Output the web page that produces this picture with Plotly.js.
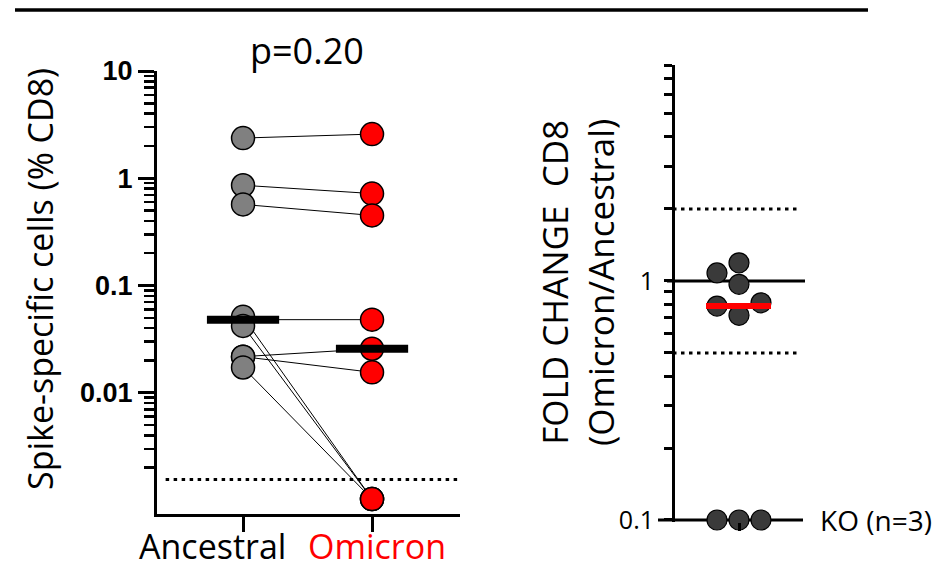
<!DOCTYPE html>
<html><head><meta charset="utf-8">
<script src="https://cdn.plot.ly/plotly-3.0.1.min.js"></script>
<style>html,body{margin:0;padding:0;background:#fff}#chart{width:941px;height:570px}</style>
</head><body><div id="chart"></div>
<script>
// ---- data ----
const groups = ['Ancestral', 'Omicron'];
const ancestral = [2.37, 0.86, 0.57, 0.048, 0.051, 0.042, 0.0217, 0.0217, 0.0172];
const omicron   = [2.58, 0.72, 0.45, 0.048, 0.00102, 0.00102, 0.0257, 0.0155, 0.00102];
const foldChange = [1.08, 0.81, 0.785, 0.968, 0.1, 0.1, 1.19, 0.718, 0.1];
const detectionLimit = 0.00155;
const foldRef = 1;
const foldThresholds = [0.5, 2];
const koFloor = 0.1;
const pText = 'p=0.20';
const koText = 'KO (n=3)';
const leftTickVals = [0.01, 0.1, 1, 10];
const leftTickText = ['0.01', '0.1', '1', '10'];
const rightTickVals = [0.1, 1];
const rightTickText = ['0.1', '1'];

// ---- helpers ----
const W = 941, H = 570;
const px = v => v / W, py = v => 1 - v / H;
const median = a => { const s = [...a].sort((p, q) => p - q); const n = s.length; return n % 2 ? s[(n - 1) / 2] : (s[n / 2 - 1] + s[n / 2]) / 2; };
function minorVals(lo, hi) { const out = []; for (let e = lo; e <= hi; e++) for (let k = 2; k <= 9; k++) out.push(k * Math.pow(10, e)); return out; }

// right panel geometry (x2 units are pixels relative to the category centre)
const y2Dom = [py(522), py(65)];
const y2Range = [-1 - 2 / 238, Math.log10(8)];
const pxPerDecade2 = (y2Dom[1] - y2Dom[0]) * H / (y2Range[1] - y2Range[0]);
function beeswarm(vals, ppd, diam, step) {
  const idx = vals.map((v, i) => i).sort((a, b) => vals[a] - vals[b]);
  const placed = [], off = new Array(vals.length);
  const cands = [0, -step, step, -2 * step, 2 * step, -3 * step, 3 * step];
  for (const i of idx) {
    const yp = Math.log10(vals[i]) * ppd;
    for (const c of cands) {
      if (placed.every(p => Math.hypot(p.x - c, p.y - yp) >= diam)) { off[i] = c; placed.push({ x: c, y: yp }); break; }
    }
  }
  return off;
}
const fcOffsets = beeswarm(foldChange, pxPerDecade2, 20, 22);

// ---- traces ----
const pairX = [], pairY = [];
ancestral.forEach((a, i) => { pairX.push(0, 1, null); pairY.push(a, omicron[i], null); });

const traces = [
  { x: [-0.6, 1.682], y: [detectionLimit, detectionLimit], mode: 'lines', line: { color: '#000', width: 3, dash: '3.5px,4.5px' }, hoverinfo: 'skip', xaxis: 'x', yaxis: 'y' },
  { x: pairX, y: pairY, mode: 'lines', line: { color: '#000', width: 1 }, hoverinfo: 'skip', xaxis: 'x', yaxis: 'y' },
  { x: ancestral.map(() => 0), y: ancestral, mode: 'markers', cliponaxis: false, marker: { size: 23, color: '#808080', line: { color: '#000', width: 1.5 } }, xaxis: 'x', yaxis: 'y' },
  { x: omicron.map(() => 1), y: omicron, mode: 'markers', cliponaxis: false, marker: { size: 23, color: '#ff0000', line: { color: '#000', width: 1.5 } }, xaxis: 'x', yaxis: 'y' },
  { x: [-0.28, 0.28], y: [median(ancestral), median(ancestral)], mode: 'lines', line: { color: '#000', width: 8 }, hoverinfo: 'skip', xaxis: 'x', yaxis: 'y' },
  { x: [1 - 0.28, 1 + 0.28], y: [median(omicron), median(omicron)], mode: 'lines', line: { color: '#000', width: 8 }, hoverinfo: 'skip', xaxis: 'x', yaxis: 'y' },
  // right panel
  { x: [-66, 59], y: [foldThresholds[1], foldThresholds[1]], mode: 'lines', line: { color: '#000', width: 3, dash: '3.5px,4.5px' }, hoverinfo: 'skip', xaxis: 'x2', yaxis: 'y2' },
  { x: [-66, 59], y: [foldThresholds[0], foldThresholds[0]], mode: 'lines', line: { color: '#000', width: 3, dash: '3.5px,4.5px' }, hoverinfo: 'skip', xaxis: 'x2', yaxis: 'y2' },
  { x: [-72, 66], y: [foldRef, foldRef], mode: 'lines', line: { color: '#000', width: 3 }, hoverinfo: 'skip', xaxis: 'x2', yaxis: 'y2' },
  { x: [-81, 64], y: [koFloor, koFloor], mode: 'lines', line: { color: '#000', width: 3 }, hoverinfo: 'skip', xaxis: 'x2', yaxis: 'y2' },
  { x: fcOffsets, y: foldChange, mode: 'markers', cliponaxis: false, marker: { size: 20, color: '#3a3a3a', line: { color: '#000', width: 1.2 } }, xaxis: 'x2', yaxis: 'y2' },
  { x: [-33, 32], y: [median(foldChange), median(foldChange)], mode: 'lines', line: { color: '#ff0000', width: 6 }, hoverinfo: 'skip', xaxis: 'x2', yaxis: 'y2' }
];

const axCommon = { showgrid: false, zeroline: false, linecolor: '#000', tickcolor: '#000', fixedrange: true };
const layout = {
  width: W, height: H, margin: { l: 0, r: 0, t: 0, b: 0 }, showlegend: false,
  paper_bgcolor: '#fff', plot_bgcolor: 'rgba(0,0,0,0)',
  font: { family: 'Open Sans', color: '#000' },
  xaxis: Object.assign({}, axCommon, { domain: [px(157), px(460)], range: [-0.667, 1.682], anchor: 'y', showline: true, linewidth: 3, ticks: 'outside', ticklen: 15, tickwidth: 3, tickmode: 'array', tickvals: [0, 1], ticktext: ['', ''] }),
  yaxis: Object.assign({}, axCommon, { type: 'log', domain: [py(514), py(71)], range: [Math.log10(0.00074), 1], anchor: 'x', showline: true, linewidth: 3, ticks: 'outside', ticklen: 16, tickwidth: 3, tickmode: 'array', tickvals: leftTickVals, ticktext: leftTickText, tickfont: { family: 'Liberation Sans', size: 27, weight: 700, color: '#000' },
    minor: { tickmode: 'array', tickvals: minorVals(-3, 0), ticks: 'outside', ticklen: 10, tickwidth: 2.5, tickcolor: '#000', showgrid: false } }),
  xaxis2: Object.assign({}, axCommon, { domain: [px(655), px(815)], range: [-84, 76], anchor: 'y2', showline: false, ticks: 'outside', ticklen: 8, tickwidth: 3, tickmode: 'array', tickvals: [0], ticktext: [''] }),
  yaxis2: Object.assign({}, axCommon, { type: 'log', domain: y2Dom, range: y2Range, anchor: 'free', position: px(673), showline: true, linewidth: 3, ticks: 'outside', ticklen: 8, tickwidth: 3, tickmode: 'array', tickvals: rightTickVals, ticktext: rightTickText, ticklabelstandoff: 5, tickfont: { family: 'Open Sans', size: 25, color: '#000' },
    minor: { tickmode: 'array', tickvals: minorVals(-1, 0).filter(v => v < 8.5), ticks: 'outside', ticklen: 8, tickwidth: 3, tickcolor: '#000', showgrid: false } }),
  shapes: [
    { type: 'line', xref: 'paper', yref: 'paper', x0: px(15), x1: px(868), y0: py(10), y1: py(10), line: { color: '#000', width: 3.5 } }
  ],
  annotations: [
    { text: pText, xref: 'paper', yref: 'paper', x: px(307), y: py(50), xanchor: 'center', yanchor: 'middle', showarrow: false, font: { family: 'Open Sans', size: 36, color: '#000' } },
    { text: groups[0], xref: 'paper', yref: 'paper', x: px(212), y: 0, xanchor: 'center', yanchor: 'bottom', borderpad: 0, showarrow: false, font: { family: 'Open Sans', size: 34, color: '#000' } },
    { text: groups[1], xref: 'paper', yref: 'paper', x: px(377), y: 0, xanchor: 'center', yanchor: 'bottom', borderpad: 0, showarrow: false, font: { family: 'Open Sans', size: 34, color: '#ff0000' } },
    { text: 'Spike-specific cells (% CD8)', xref: 'paper', yref: 'paper', x: px(40), y: py(279), xanchor: 'center', yanchor: 'middle', textangle: -90, showarrow: false, font: { family: 'Open Sans', size: 34, color: '#000' } },
    { text: 'FOLD CHANGE&nbsp;&nbsp;CD8<br>(Omicron/Ancestral)', xref: 'paper', yref: 'paper', x: px(577), y: py(283), xanchor: 'center', yanchor: 'middle', textangle: -90, showarrow: false, font: { family: 'Open Sans', size: 35, color: '#000' } },
    { text: koText, xref: 'paper', yref: 'paper', x: px(818), y: py(520), xanchor: 'left', yanchor: 'middle', showarrow: false, font: { family: 'Open Sans', size: 28, color: '#000' } }
  ]
};
Plotly.newPlot('chart', traces, layout, { staticPlot: true, displayModeBar: false });
</script></body></html>
